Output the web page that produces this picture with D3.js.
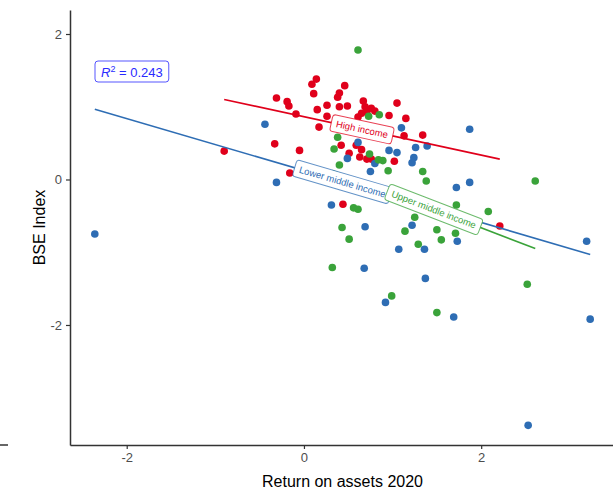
<!DOCTYPE html>
<html>
<head>
<meta charset="utf-8">
<script src="https://cdn.jsdelivr.net/npm/d3@7"></script>
<style>
  body { margin: 0; background: #fff; }
  svg { display: block; font-family: "Liberation Sans", Arial, sans-serif; }
</style>
</head>
<body>
<svg id="chart"></svg>
<script>
const width = 613, height = 496;
const margin = { top: 10, right: -2, bottom: 51, left: 70 };

// groups
const groups = ["High income", "Lower middle income", "Upper middle income"];
const colors = ["#e0001b", "#2e6db4", "#3aa33a"];

// points: [return on assets 2020, BSE index]
const highIncome = [
  [-0.90, 0.39], [-0.33, 0.49], [-0.31, 1.12], [-0.19, 1.07], [-0.17, 1.01],
  [-0.16, 0.09], [-0.09, 0.90], [-0.05, 0.40], [0.09, 1.31], [0.14, 1.38],
  [0.11, 1.18], [0.15, 0.96], [0.17, 0.72], [0.26, 1.02], [0.26, 0.87],
  [0.38, 1.13], [0.40, 1.19], [0.46, 1.29], [0.40, 1.00], [0.49, 1.01],
  [0.42, 0.47], [0.44, -0.34], [0.51, 0.36], [0.59, 0.47], [0.65, 0.41],
  [0.63, 0.31], [0.67, 1.08], [0.69, 1.00], [0.71, 0.93], [0.76, 0.98],
  [0.80, 0.94], [0.65, 0.91], [0.61, 0.86], [0.71, 0.28], [0.76, 0.28],
  [0.96, 0.88], [1.05, 1.05], [1.15, 0.84], [1.13, 0.60], [1.34, 0.61],
  [1.02, 0.25], [2.21, -0.64]
];
const lowerMiddle = [
  [-2.36, -0.75], [-0.44, 0.76], [-0.31, -0.04], [0.31, -0.35], [0.49, 0.29],
  [0.61, 0.51], [0.69, -0.65], [0.68, -1.22], [0.75, 0.11], [0.80, 0.22],
  [0.92, -1.69], [0.96, 0.40], [1.05, 0.37], [1.07, -0.96], [1.10, 0.71],
  [1.22, 0.23], [1.24, 0.30], [1.22, -0.63], [1.26, 0.44], [1.39, 0.46],
  [1.36, -0.96], [1.37, -1.36], [1.69, -1.89], [1.72, -0.11], [1.73, -0.85],
  [1.87, 0.69], [1.87, -0.04], [2.53, -3.38], [3.19, -0.85], [3.23, -1.92]
];
const upperMiddle = [
  [0.61, 1.78], [0.38, 0.58], [0.34, 0.42], [0.40, 0.20], [0.73, 0.87],
  [0.85, 0.89], [0.74, 0.35], [0.84, 0.27], [0.89, 0.26], [0.95, 0.12],
  [1.34, 0.11], [1.38, -0.02], [2.61, -0.02], [0.43, -0.66], [0.51, -0.82],
  [0.56, -0.39], [0.61, -0.41], [0.32, -1.21], [0.99, -1.60], [1.25, -0.52],
  [1.14, -0.71], [1.29, -0.89], [1.50, -0.69], [1.55, -0.83], [1.72, -0.35],
  [1.71, -0.74], [1.50, -1.83], [2.08, -0.44], [2.52, -1.44]
];
const series = [highIncome, lowerMiddle, upperMiddle];

// fitted lines, ends: [x0, y0, x1, y1]
const fits = [
  [-0.90, 1.10, 2.21, 0.28],
  [-2.36, 0.965, 3.23, -1.03],
  [0.32, 0.125, 2.61, -0.95]
];

const xTicks = [-2, 0, 2];
const yTicks = [-2, 0, 2];
const r2Text = "0.243";

const svg = d3.select("#chart").attr("width", width).attr("height", height);

const x = d3.scaleLinear().domain([-2.64, 3.51]).range([margin.left, width - margin.right]);
const y = d3.scaleLinear().domain([-3.65, 2.33]).range([height - margin.bottom, margin.top]);

// stray axis stub on the far left
svg.append("line")
  .attr("x1", 0).attr("x2", 8)
  .attr("y1", y(-3.65)).attr("y2", y(-3.65))
  .attr("stroke", "#333").attr("stroke-width", 1.5);

// axes
const fmt = d => String(d);
const xAxis = svg.append("g")
  .attr("transform", `translate(0,${y.range()[0]})`)
  .call(d3.axisBottom(x).tickValues(xTicks).tickFormat(fmt).tickSize(4).tickPadding(4).tickSizeOuter(0));
const yAxis = svg.append("g")
  .attr("transform", `translate(${x.range()[0]},0)`)
  .call(d3.axisLeft(y).tickValues(yTicks).tickFormat(fmt).tickSize(4).tickPadding(4).tickSizeOuter(0));

[xAxis, yAxis].forEach(a => {
  a.select(".domain").attr("stroke", "#333").attr("stroke-width", 1.5);
  a.selectAll(".tick line").attr("stroke", "#333").attr("stroke-width", 1.2);
  a.selectAll(".tick text")
    .attr("fill", "#4d4d4d")
    .style("font-size", "13px")
    .style("font-family", "'Liberation Sans', Arial, sans-serif");
});

// axis titles
svg.append("text")
  .attr("x", (x.range()[0] + x.range()[1]) / 2)
  .attr("y", 487)
  .attr("text-anchor", "middle")
  .style("font-size", "16px")
  .text("Return on assets 2020");

svg.append("text")
  .attr("transform", `translate(45,${(y.range()[0] + y.range()[1]) / 2}) rotate(-90)`)
  .attr("text-anchor", "middle")
  .style("font-size", "16px")
  .text("BSE Index");

// points
series.forEach((pts, i) => {
  svg.append("g")
    .selectAll("circle")
    .data(pts)
    .join("circle")
      .attr("cx", d => x(d[0]))
      .attr("cy", d => y(d[1]))
      .attr("r", 3.8)
      .attr("fill", colors[i]);
});

// fitted lines
svg.append("g")
  .selectAll("line")
  .data(fits)
  .join("line")
    .attr("x1", d => x(d[0])).attr("y1", d => y(d[1]))
    .attr("x2", d => x(d[2])).attr("y2", d => y(d[3]))
    .attr("stroke", (d, i) => colors[i])
    .attr("stroke-width", 1.6);

// labels sitting on the middle of each line
fits.forEach((f, i) => {
  const x0 = x(f[0]), y0 = y(f[1]), x1 = x(f[2]), y1 = y(f[3]);
  const angle = Math.atan2(y1 - y0, x1 - x0) * 180 / Math.PI;
  const g = svg.append("g")
    .attr("transform", `translate(${(x0 + x1) / 2},${(y0 + y1) / 2}) rotate(${angle})`);
  const rect = g.append("rect");
  const t = g.append("text")
    .attr("text-anchor", "middle")
    .attr("dy", "0.35em")
    .attr("fill", colors[i])
    .style("font-size", "9.5px")
    .text(groups[i]);
  const w = t.node().getComputedTextLength() + 10;
  rect.attr("x", -w / 2).attr("y", -8.5)
    .attr("width", w).attr("height", 17)
    .attr("rx", 3)
    .attr("fill", "#fff")
    .attr("stroke", colors[i])
    .attr("stroke-opacity", 0.75)
    .attr("stroke-width", 1);
});

// R squared box
const r2 = svg.append("g").attr("transform", "translate(95,61)");
const r2rect = r2.append("rect");
const r2t = r2.append("text")
  .attr("x", 6).attr("y", 16)
  .attr("fill", "#2a2aff")
  .style("font-size", "13px");
r2t.append("tspan").attr("font-style", "italic").text("R");
r2t.append("tspan").attr("dy", -5).style("font-size", "9px").text("2");
r2t.append("tspan").attr("dy", 5).text(" = " + r2Text);
const r2w = r2t.node().getComputedTextLength() + 12;
r2rect.attr("width", r2w).attr("height", 21).attr("rx", 3)
  .attr("fill", "#fff").attr("stroke", "#2a2aff").attr("stroke-opacity", 0.8);
</script>
</body>
</html>
